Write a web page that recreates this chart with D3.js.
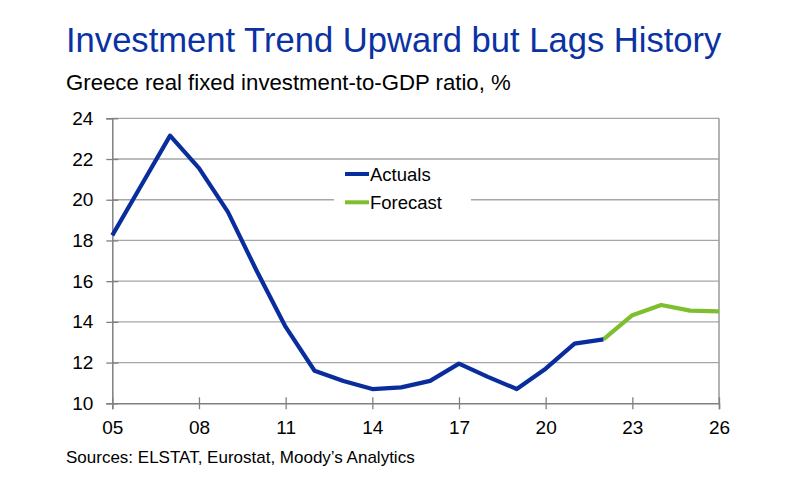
<!DOCTYPE html>
<html><head><meta charset="utf-8">
<script src="https://cdn.jsdelivr.net/npm/d3@7"></script>
<style>body{margin:0;background:#fff}svg{display:block}text{font-family:"Liberation Sans",Arial,sans-serif}</style>
</head><body><svg id="c" width="800" height="498"></svg>
<script>
const years = [2005,2006,2007,2008,2009,2010,2011,2012,2013,2014,2015,2016,2017,2018,2019,2020,2021,2022];
const actuals = [18.25,20.7,23.15,21.55,19.4,16.5,13.75,11.6,11.1,10.7,10.78,11.1,11.95,11.3,10.7,11.7,12.93,13.14];
const fcYears = [2022,2023,2024,2025,2026];
const forecast = [13.14,14.33,14.83,14.55,14.52];
const yTicks = [10,12,14,16,18,20,22,24];
const xTicks = [2005,2008,2011,2014,2017,2020,2023,2026];
const xTickLabels = ["05","08","11","14","17","20","23","26"];
const seriesNames = ["Actuals","Forecast"];
const colors = ["#0a2d9e","#7dbf2e"];

const svg = d3.select("#c");
const L=112.3,R=719,T=118.3,B=403.3;
const x = d3.scaleLinear().domain([2005,2026]).range([L,R]);
const y = d3.scaleLinear().domain([10,24]).range([B,T]);

svg.append("text").attr("x",66).attr("y",51.7).attr("fill","#0a32a3").attr("font-size",34.6).text("Investment Trend Upward but Lags History");
svg.append("text").attr("x",66).attr("y",90).attr("fill","#000").attr("font-size",22.2).text("Greece real fixed investment-to-GDP ratio, %");
svg.append("text").attr("x",66).attr("y",462.5).attr("fill","#000").attr("font-size",17).text("Sources: ELSTAT, Eurostat, Moody\u2019s Analytics");

// grid
svg.append("g").selectAll("line").data(yTicks.filter(d=>d>10)).join("line")
  .attr("x1",L).attr("x2",R).attr("y1",d=>y(d)).attr("y2",d=>y(d))
  .attr("stroke","#a6a6a6").attr("stroke-width",1.3);
// right border
svg.append("line").attr("x1",R).attr("x2",R).attr("y1",T).attr("y2",B).attr("stroke","#999").attr("stroke-width",1.5);

// y axis
const ya = svg.append("g").attr("transform",`translate(${L},0)`)
  .call(d3.axisLeft(y).tickValues(yTicks).tickSize(6).tickPadding(8).tickFormat(d3.format("d")));
ya.select(".domain").attr("stroke","#808080").attr("stroke-width",1.5);
ya.selectAll(".tick line").attr("stroke","#808080").attr("stroke-width",1.3).attr("x2",6).attr("x1",-6);
ya.selectAll(".tick text").attr("font-size",19).attr("fill","#000").attr("font-family","Liberation Sans, Arial, sans-serif").attr("x",-19);

// x axis
const xa = svg.append("g").attr("transform",`translate(0,${B})`)
  .call(d3.axisBottom(x).tickValues(xTicks).tickSize(6).tickPadding(11).tickFormat((d,i)=>xTickLabels[i]));
xa.select(".domain").attr("stroke","#808080").attr("stroke-width",1.5);
xa.selectAll(".tick line").attr("stroke","#808080").attr("stroke-width",1.3).attr("y1",-6).attr("y2",6);
xa.selectAll(".tick text").attr("font-size",19).attr("fill","#000").attr("font-family","Liberation Sans, Arial, sans-serif");

const line = d3.line().x(d=>x(d[0])).y(d=>y(d[1]));
svg.append("path").datum(fcYears.map((d,i)=>[d,forecast[i]])).attr("d",line)
  .attr("fill","none").attr("stroke",colors[1]).attr("stroke-width",4.2).attr("stroke-linejoin","round");
svg.append("path").datum(years.map((d,i)=>[d,actuals[i]])).attr("d",line)
  .attr("fill","none").attr("stroke",colors[0]).attr("stroke-width",4.2).attr("stroke-linejoin","round");

// legend
const lg = svg.append("g");
lg.append("rect").attr("x",334).attr("y",161).attr("width",137).attr("height",54).attr("fill","#fff");
seriesNames.forEach((n,i)=>{
  const yy = 174 + i*28.3;
  lg.append("line").attr("x1",345).attr("x2",369).attr("y1",yy).attr("y2",yy).attr("stroke",colors[i]).attr("stroke-width",4);
  lg.append("text").attr("x",370).attr("y",yy+7).attr("font-size",18.5).attr("fill","#000").text(n);
});
</script></body></html>
